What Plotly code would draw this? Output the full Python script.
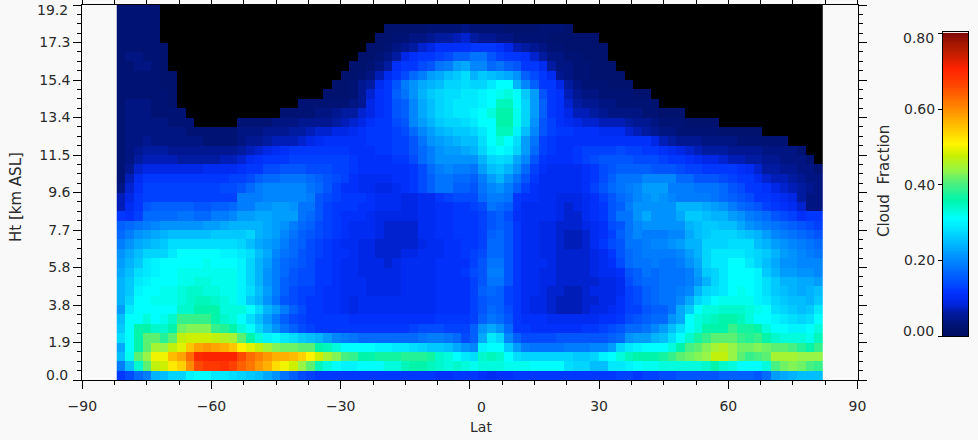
import numpy as np
import plotly.graph_objects as go

# Latitude cell centres (82 cells, 2 degrees wide) and height cell centres (40 cells, 0.48 km)
lat_centres = list(range(-81, 82, 2))
ht_centres = [round(0.24 + 0.48 * i, 2) for i in range(40)]

# Number of no-data cells at the top of each latitude column
no_data_rows = [0,0,0,0,0,4,7,11,12,13,13,13,13,13,12,12,12,12,12,11,11,10,10,10,9,8,7,6,5,4,3,
                2,2,2,2,2,2,2,2,2,2,2,2,2,2,2,2,2,2,2,2,2,2,3,3,3,4,6,7,8,9,9,10,11,11,11,
                12,12,12,12,13,13,13,13,13,14,14,14,15,15,16,17]

# Cloud fraction in hundredths, rows from top of plot, only the columns that hold data
r00 = [3,3,3,3,3]
r01 = [3,3,3,3,3]
r02 = [3,3,3,3,3, 2,2,2,2,2,3,3,3,3,4, 3,3,3,3,2,2,2,2,3,3,3,2]
r03 = [3,3,3,3,3, 2,2,3,3,4,4,5,6,6,7,8, 6,5,5,4,4,3,3,3,3,2,2,2,2,2,2]
r04 = [3,3,3,3,3,2, 2,2,3,4,5,6,8,9,11,11,11,11, 12,12,12,11,9,7,6,5,4,3,3,2,2,2,2,2]
r05 = [3,4,4,3,3,2, 2,2,3,4,6,9,11,12,12,13,14,16,16, 18,18,15,13,12,12,11,8,6,4,4,3,3,2,2,2]
r06 = [3,3,4,4,3,2, 2,2,3,4,6,11,12,12,14,15,18,19,22,23, 20,20,17,18,16,15,12,12,10,6,4,4,3,3,2,2,2]
r07 = [3,3,3,3,3,2,2, 2,2,3,4,7,10,12,14,17,19,22,23,25,26,28, 24,26,25,24,23,21,16,14,12,10,5,4,3,3,2,2,2,2]
r08 = [3,3,3,3,3,2,2, 2,2,3,5,6,10,12,15,19,21,23,24,25,27,27,28, 27,27,29,31,31,24,20,16,12,12,9,6,4,3,3,3,2,2,2]
r09 = [3,3,3,3,3,3,2, 2,2,2,3,5,8,11,12,16,18,21,24,26,27,28,28,29, 29,30,31,32,33,31,26,22,15,12,11,7,5,4,4,3,3,3,3,2,2]
r10 = [3,4,4,4,3,3,2, 3,3,3,3,3,3,4,5,9,11,12,15,16,20,23,25,27,28,29,29, 29,30,31,35,35,31,27,22,16,12,11,8,6,5,5,4,4,3,3,3,3,2]
r11 = [3,4,4,4,3,3,3,3, 3,3,3,3,4,4,5,6,6,8,9,11,12,15,16,20,23,25,27,28,29,29, 30,31,33,36,36,32,27,22,16,12,11,9,7,7,6,5,4,4,4,4,3,3,2,2,2]
r12 = [3,4,4,4,4,4,3,3,3, 3,3,3,3,4,4,4,5,5,5,5,6,7,8,9,11,12,12,14,15,20,22,24,26,27,27,28,
       29,31,31,36,36,32,27,21,15,13,11,10,9,8,8,7,7,7,6,5,5,4,3,3,3,2,2,2,2]
r13 = [3,4,4,4,4,4,4,4,3,3,3,3,3,3, 4,4,4,5,5,5,6,6,7,8,8,9,9,10,11,12,12,12,13,14,17,20,22,24,25,26,26,
       27,29,31,35,35,30,25,20,15,13,12,12,11,11,11,10,10,10,8,7,6,5,4,4,3,3,3,3,3,2,2,2,2,2]
r14 = [3,4,4,5,4,4,4,4,4,4,3,3,3,3, 4,5,5,6,7,7,7,8,9,10,11,11,11,11,11,12,12,12,13,13,15,18,21,22,23,24,25,
       25,28,31,33,31,28,22,18,13,12,11,11,11,11,11,11,11,11,11,11,11,9,7,6,5,5,5,4,4,4,4,3,3,3,3,3,3]
r15 = [3,4,5,6,6,6,5,5,5,5,5,5,5,5, 6,7,8,9,10,11,12,12,12,12,12,12,12,11,11,11,12,12,13,13,15,17,19,21,22,22,23,
       24,27,30,31,30,27,22,17,13,12,11,11,12,13,13,13,13,14,13,13,12,12,11,10,9,8,7,6,6,6,5,5,5,5,4,4,4,4,3]
r16 = [3,4,6,7,7,7,7,6,6,6,6,6,7,7, 8,10,11,12,12,12,13,13,13,13,13,13,13,12,11,11,11,11,12,12,14,17,19,21,21,21,21,
       21,24,27,28,27,23,20,15,12,11,11,11,12,13,14,15,15,15,15,14,14,14,13,12,12,11,10,9,9,8,7,7,6,6,5,5,4,4,4,3]
r17 = [3,5,8,9,9,9,9,9,9,9,10,10,10,10, 11,12,12,14,14,15,15,15,14,14,14,13,13,12,11,11,11,11,11,11,12,14,17,19,20,19,19,
       18,22,25,26,24,21,17,13,11,10,10,10,10,11,12,14,15,16,16,16,16,15,15,15,14,13,13,12,12,12,12,11,10,8,6,6,5,5,4,4,3]
r18 = [3,7,10,12,12,12,12,12,12,12,12,12,12,13, 13,14,16,17,17,18,18,18,17,16,15,14,13,11,10,10,10,10,11,11,12,14,16,18,18,17,17,
       16,19,22,24,21,18,15,12,10,10,10,10,10,11,12,14,16,18,18,18,20,20,20,20,17,17,15,15,15,14,13,12,12,10,8,7,7,6,5,4,4]
r19 = [4,8,11,13,13,13,13,13,13,13,13,13,14,14, 15,17,19,20,20,20,20,20,18,17,15,13,11,11,10,10,9,9,10,11,12,14,16,18,18,16,16,
       15,18,20,21,19,16,13,11,10,10,10,10,10,11,13,15,17,18,19,20,22,22,22,19,19,19,18,18,18,17,15,14,12,12,11,9,8,7,6,5,4]
r20 = [7,9,12,13,13,13,13,13,13,13,13,13,13,13,19,19,19,20,20,20,20,20,19,15,14,13,12,12,
       12,11,10,10,10,9,9,10,10,12,13,14,14,14,17,19,19,18,12,11,11,10,10,9,9,9,10,11,
       13,15,17,18,20,21,22,21,20,19,19,19,19,18,17,16,15,14,12,12,11,10,9,6,4,4]
r21 = [7,10,12,15,16,16,16,16,16,15,15,16,16,17,19,19,21,21,22,22,21,18,18,15,13,12,12,12,
       11,11,10,10,10,9,9,10,10,11,11,12,12,13,14,18,17,16,12,10,10,10,10,9,8,9,10,11,
       12,15,16,19,21,21,21,21,21,24,24,24,23,22,21,19,17,16,15,13,12,11,10,8,4,4]
r22 = [12,11,13,17,17,17,17,18,18,17,17,19,19,20,22,22,23,23,22,22,22,18,17,15,13,12,11,11,
       11,10,9,9,9,9,9,10,10,11,11,12,12,12,13,15,16,14,11,10,10,10,10,9,8,8,10,11,
       12,15,18,18,21,23,21,21,21,23,26,26,25,24,24,22,21,19,18,17,15,14,13,11,12,12]
r23 = [16,17,18,19,20,21,21,21,21,21,22,22,23,24,24,24,24,23,22,21,19,17,16,14,13,12,11,10,
       10,10,9,8,8,8,8,10,10,11,11,12,12,12,13,15,16,15,12,10,10,9,9,8,8,8,9,10,
       11,14,15,18,20,21,21,21,21,21,24,25,26,26,25,25,23,21,20,19,18,17,16,15,14,13]
r24 = [17,19,21,22,23,24,25,25,25,25,25,26,26,26,26,27,24,23,22,20,18,16,15,14,13,12,11,10,
       10,10,9,8,8,8,8,10,10,11,11,12,12,12,13,16,17,15,12,10,10,9,9,8,7,7,8,10,
       11,13,16,18,20,19,19,19,20,20,23,25,26,27,27,27,26,25,24,22,20,19,18,17,16,15]
r25 = [19,21,23,24,25,26,28,28,28,28,28,28,28,28,27,25,23,22,21,19,17,16,14,13,12,11,10,10,
       9,9,8,8,8,8,8,9,10,10,11,11,12,12,13,17,17,15,12,10,10,9,9,8,7,7,8,10,
       12,14,15,18,18,19,20,20,21,22,24,24,27,27,27,28,28,28,25,24,22,21,20,19,18,17]
r26 = [21,23,25,27,27,27,29,31,31,31,31,31,30,30,29,28,25,23,20,18,17,15,14,13,12,11,11,10,
       9,9,8,8,8,9,9,10,10,10,11,11,12,13,14,17,17,15,12,10,10,9,9,8,8,8,8,9,
       10,12,15,17,18,19,19,19,19,20,22,24,27,29,29,29,29,28,27,26,24,22,21,20,19,18]
r27 = [22,24,26,29,30,31,31,31,31,31,32,31,31,31,30,27,24,22,19,17,16,15,14,12,12,11,10,10,
       9,9,9,8,9,10,10,10,10,11,11,11,11,13,15,18,18,15,12,10,10,10,9,8,8,8,8,9,
       10,11,14,17,18,18,19,18,18,19,21,23,27,29,29,31,31,29,27,25,23,21,21,20,20,20]
r28 = [23,25,28,29,30,31,31,32,32,32,32,32,32,32,30,27,24,21,19,17,15,14,14,12,12,11,10,10,
       9,9,9,9,9,10,10,10,10,11,11,11,12,14,15,19,19,15,12,10,10,9,9,8,8,8,8,9,
       10,10,11,15,16,18,17,18,18,18,19,22,26,27,29,31,31,31,30,26,24,22,22,21,21,20]
r29 = [24,26,29,30,31,31,31,32,32,33,33,32,32,32,30,27,24,21,19,16,15,14,14,12,12,11,10,10,
       10,9,9,9,9,10,10,10,10,11,11,11,11,13,15,18,18,15,12,10,10,9,9,8,8,8,8,8,
       9,9,10,14,16,17,17,18,18,18,19,21,24,27,29,31,31,31,30,28,26,24,24,23,23,22]
r30 = [24,26,30,31,31,32,32,33,34,34,33,33,32,32,30,28,25,22,19,16,14,13,13,12,11,11,10,10,
       10,9,9,9,9,10,10,10,10,11,11,11,11,13,16,17,16,13,12,10,10,9,8,8,7,7,8,9,
       9,9,10,13,14,16,17,18,18,19,20,24,27,28,29,31,32,31,30,28,26,25,24,23,24,25]
r31 = [24,27,31,31,32,32,32,33,34,35,35,34,33,32,30,26,24,21,18,15,14,13,12,12,11,11,10,9,
       10,10,10,10,10,10,10,10,10,11,11,11,11,13,15,16,16,13,12,10,9,9,8,7,7,7,8,8,
       9,9,11,13,14,16,17,18,18,20,23,27,29,31,32,32,32,32,30,29,27,26,25,25,24,26]
r32 = [22,29,31,31,31,31,31,34,34,36,36,36,33,33,33,31,28,24,22,19,16,14,12,12,11,11,10,9,
       10,10,10,10,10,10,10,10,10,11,11,11,11,13,15,17,16,14,12,10,9,9,8,7,7,7,8,9,
       9,10,11,13,13,15,16,16,18,23,26,31,33,33,34,34,34,33,32,31,28,27,26,25,26,29]
r33 = [25,31,31,33,31,32,34,39,39,39,39,36,34,33,31,28,25,22,19,16,14,13,12,12,12,12,12,11,
       11,11,11,11,11,11,11,11,11,12,12,12,12,13,16,18,17,15,12,11,11,11,10,10,10,10,10,10,
       11,11,12,14,15,16,17,17,21,23,31,33,34,35,36,36,35,33,31,31,30,29,28,27,28,31]
r34 = [26,31,36,36,34,34,36,42,43,43,43,39,38,36,33,31,27,24,21,18,16,14,13,12,12,12,12,12,
       12,12,12,12,12,12,13,14,14,14,13,13,13,16,21,23,21,17,12,12,11,11,11,11,11,11,12,12,
       13,14,15,17,17,18,20,22,25,28,31,33,36,36,36,39,37,37,36,33,31,31,30,30,31,33]
r35 = [28,31,36,41,41,38,41,47,48,48,48,47,46,45,41,36,33,30,31,29,28,26,25,24,22,20,19,18,
       17,17,17,17,17,17,17,18,19,19,18,17,14,16,23,29,27,20,16,14,14,14,14,15,15,15,15,15,
       15,16,17,21,22,22,24,25,28,31,34,37,39,41,41,41,39,38,39,36,34,33,33,33,32,35]
r36 = [23,31,36,41,45,44,47,49,55,58,59,58,57,55,51,49,47,45,43,42,42,41,41,36,35,33,31,31,
       31,31,30,30,29,29,28,27,26,26,25,23,21,20,30,31,31,26,22,19,18,18,18,18,19,19,19,20,
       20,22,27,29,30,31,31,31,33,36,40,41,43,45,46,44,42,42,43,42,41,41,40,38,36,39]
r37 = [25,32,41,44,50,50,56,58,63,70,71,71,71,71,66,63,61,59,57,57,56,54,51,48,45,43,40,39,
       36,36,37,37,37,38,38,38,37,34,33,31,29,28,34,35,34,31,28,27,27,27,27,27,27,26,26,27,
       30,31,33,35,36,36,36,37,39,41,42,43,44,47,47,44,41,39,40,41,45,45,45,44,44,44]
r38 = [19,25,34,41,47,48,52,54,60,66,68,68,69,67,64,62,59,57,53,50,48,44,41,35,33,31,30,30,
       31,31,31,33,33,35,36,36,35,34,33,34,33,32,33,33,33,32,32,32,31,31,31,31,28,27,27,25,
       25,29,29,30,31,32,32,33,33,33,33,33,34,36,34,33,31,31,31,33,40,42,43,42,40,39]
r39 = [12,14,17,19,24,25,27,27,30,31,31,29,29,28,27,26,25,23,21,18,16,14,13,12,12,12,12,12,
       12,12,12,12,12,12,12,12,12,11,11,12,12,12,11,10,11,11,12,12,12,12,12,12,12,12,12,12,
       12,12,13,13,12,13,13,14,14,15,15,15,15,15,16,16,16,16,15,17,22,23,24,25,25,25]

rows_from_top = [r00,r01,r02,r03,r04,r05,r06,r07,r08,r09,r10,r11,r12,r13,r14,r15,r16,r17,r18,r19,
                 r20,r21,r22,r23,r24,r25,r26,r27,r28,r29,r30,r31,r32,r33,r34,r35,r36,r37,r38,r39]

x_tick_vals = [-90, -60, -30, 0, 30, 60, 90]
x_tick_text = ["\u221290", "\u221260", "\u221230", "", "30", "60", "90"]
y_tick_vals = [0.0, 1.92, 3.84, 5.76, 7.68, 9.6, 11.52, 13.44, 15.36, 17.28, 19.2]
y_tick_text = ["", "1.9", "3.8", "5.8", "7.7", "9.6", "11.5", "13.4", "15.4", "17.3", ""]
bar_tick_vals = [0.0, 0.2, 0.4, 0.6, 0.8]
bar_tick_text = ["", "0.20", "0.40", "0.60", ""]

stops = [(0.00,(0,15,100)),(0.03,(0,18,115)),(0.06,(0,26,160)),(0.09,(0,38,230)),(0.115,(0,50,255)),(0.195,(0,130,255)),
         (0.31,(0,255,255)),(0.36,(0,245,170)),(0.40,(70,240,130)),(0.44,(150,245,70)),
         (0.477,(200,240,0)),(0.508,(255,245,0)),(0.557,(255,190,0)),(0.60,(255,140,0)),
         (0.663,(255,70,0)),(0.707,(255,35,0)),(0.751,(190,30,0)),(0.80,(130,10,0))]
colorscale = [[v / 0.8, f"rgb{c}"] for v, c in stops]

n_rows, n_cols = len(rows_from_top), len(lat_centres)
z = np.full((n_rows, n_cols), np.nan)
mask = np.full((n_rows, n_cols), np.nan)
for t, row in enumerate(rows_from_top):
    cols = [c for c in range(n_cols) if no_data_rows[c] <= t]
    vals = list(row)
    if len(vals) != len(cols):
        print("row", t, "has", len(vals), "wanted", len(cols))
    vals = (vals + [vals[-1]] * len(cols))[:len(cols)]
    for c, v in zip(cols, vals):
        z[n_rows - 1 - t, c] = v / 100
    for c in range(n_cols):
        if no_data_rows[c] > t:
            mask[n_rows - 1 - t, c] = 1

INK = "#2a2a2a"
FONT = "DejaVu Sans"
W, H = 978, 440

fig = go.Figure()
fig.add_trace(go.Heatmap(x=lat_centres, y=ht_centres, z=mask, showscale=False, hoverinfo="skip",
                         colorscale=[[0, "black"], [1, "black"]], zmin=0, zmax=1))
fig.add_trace(go.Heatmap(x=lat_centres, y=ht_centres, z=z, showscale=False,
                         colorscale=colorscale, zmin=0, zmax=0.8))
levels = np.linspace(0.001, 0.799, 160)
fig.add_trace(go.Heatmap(x=[0], y=levels, z=levels[:, None], showscale=False, xaxis="x2", yaxis="y2",
                         colorscale=colorscale, zmin=0, zmax=0.8))

axis_common = dict(showgrid=False, zeroline=False, showline=True, linecolor="black", linewidth=1,
                   ticks="outside", tickcolor="black", tickwidth=1, ticklen=8, mirror="ticks",
                   tickfont=dict(family=FONT, size=14, color=INK), tickmode="array", automargin=False)


def label(text, x, y, angle=0, size=14, anchor="center"):
    return dict(text=text, xref="paper", yref="paper", x=x / W, y=(H - y) / H, textangle=angle,
                xanchor=anchor, yanchor="middle", showarrow=False, font=dict(family=FONT, size=size, color=INK))


fig.update_layout(
    width=W, height=H, margin=dict(l=0, r=0, t=0, b=0, pad=0),
    paper_bgcolor="#f9f9f9", plot_bgcolor="#f9f9f9", showlegend=False,
    xaxis=dict(domain=[82.3 / W, 857.5 / W], range=[-90, 90], tickvals=x_tick_vals, ticktext=x_tick_text,
               ticklabelstandoff=5,
               minor=dict(dtick=7.5, tick0=-90, ticks="outside", ticklen=4, tickcolor="black", tickwidth=1),
               **axis_common),
    yaxis=dict(domain=[(H - 380) / H, (H - 5) / H], range=[0, 19.2], tickvals=y_tick_vals, ticktext=y_tick_text,
               minor=dict(dtick=0.48, tick0=0, ticks="outside", ticklen=4, tickcolor="black", tickwidth=1),
               **axis_common),
    xaxis2=dict(domain=[943 / W, 968 / W], range=[-0.5, 0.5], anchor="y2", showticklabels=False,
                showgrid=False, zeroline=False, showline=True, mirror=True, linecolor="black", linewidth=1,
                ticks="", automargin=False),
    yaxis2=dict(domain=[(H - 336) / H, (H - 32) / H], range=[0, 0.804], anchor="x2", side="left",
                tickmode="array", tickvals=bar_tick_vals, ticktext=bar_tick_text, automargin=False,
                showgrid=False, zeroline=False, showline=True, mirror=True, linecolor="black", linewidth=1,
                ticks="outside", ticklen=4, tickcolor="black", tickwidth=1,
                tickfont=dict(family=FONT, size=14, color=INK)),
    annotations=[
        label("0.0", 70, 375, anchor="right"),
        label("19.2", 70, 10, anchor="right"),
        label("0", 481, 407),
        label("0.80", 936, 38, anchor="right"),
        label("0.00", 936, 331, anchor="right"),
        label("Ht [km ASL]", 16, 197, angle=-90, size=15),
        label("Lat", 481, 427),
        label("Cloud  Fraction", 884, 181, angle=-90, size=15),
    ],
)
fig.write_html("out.html", config={"displayModeBar": False},
               post_script="document.body.style.margin='0';document.body.style.background='#f9f9f9';")
